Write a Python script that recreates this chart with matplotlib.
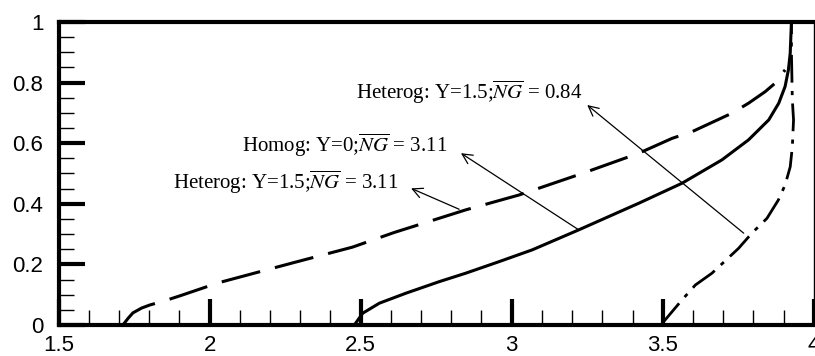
import numpy as np
import matplotlib
matplotlib.use("Agg")
import matplotlib.pyplot as plt

# curve data (x, y)
homog_x = [2.479, 2.507, 2.562, 2.650, 2.760, 2.848, 2.958, 3.068, 3.222,
           3.421, 3.564, 3.696, 3.784, 3.851, 3.884, 3.905, 3.916, 3.922,
           3.925, 3.926]
homog_y = [0.0, 0.039, 0.072, 0.105, 0.143, 0.171, 0.209, 0.248, 0.314,
           0.402, 0.468, 0.545, 0.611, 0.677, 0.732, 0.787, 0.842, 0.897,
           0.974, 1.0]

het311_x = [1.713, 1.730, 1.746, 1.775, 1.802, 1.845, 1.901, 2.028, 2.275,
            2.473, 2.61, 2.848, 3.024, 3.233, 3.421, 3.531, 3.597, 3.729,
            3.784, 3.839, 3.872, 3.905]
het311_y = [0.0, 0.022, 0.04, 0.056, 0.066, 0.078, 0.096, 0.139, 0.205,
            0.257, 0.305, 0.38, 0.429, 0.5, 0.567, 0.616, 0.638, 0.699,
            0.732, 0.770, 0.798, 0.842]

het084_x = [3.497, 3.503, 3.564, 3.608, 3.663, 3.751, 3.795, 3.845, 3.883,
            3.905, 3.922, 3.929, 3.933, 3.929, 3.926, 3.926]
het084_y = [0.0, 0.011, 0.083, 0.132, 0.171, 0.253, 0.303, 0.352, 0.413,
            0.462, 0.522, 0.588, 0.677, 0.743, 0.9, 1.0]

labels = [r'Heterog: Y=1.5;$\overline{NG}$ = 0.84',
          r'Homog: Y=0;$\overline{NG}$ = 3.11',
          r'Heterog: Y=1.5;$\overline{NG}$ = 3.11']
label_pos = [(2.486, 0.769), (2.106, 0.594), (1.878, 0.469)]
arrow_head = [(3.25, 0.726), (2.832, 0.567), (2.667, 0.451)]
arrow_tail = [(3.768, 0.303), (3.222, 0.314), (2.826, 0.382)]

plt.rcParams['mathtext.fontset'] = 'stix'

fig = plt.figure(figsize=(8.15, 3.56), dpi=100)
ax = fig.add_axes([0.0719, 0.0871, 0.9266, 0.8511])

ax.plot(homog_x, homog_y, color='black', lw=2.2, solid_capstyle='butt')
ax.plot(het311_x, het311_y, color='black', lw=2.2, linestyle=(0, (13, 5)))
ax.plot(het084_x, het084_y, color='black', lw=2.0, linestyle=(0, (10, 3, 1.5, 3)))

for txt, pos, head, tail in zip(labels, label_pos, arrow_head, arrow_tail):
    ax.text(pos[0], pos[1], txt, ha='left', va='center', fontsize=15,
            family='Liberation Serif')
    ax.annotate('', xy=head, xytext=tail,
                arrowprops=dict(arrowstyle='->', color='black', lw=0.9,
                                mutation_scale=18, shrinkA=0, shrinkB=0))

ax.set_xlim(1.5, 4.0)
ax.set_ylim(0, 1)
ax.set_xticks([1.5, 2, 2.5, 3, 3.5, 4])
ax.set_xticklabels(['1.5', '2', '2.5', '3', '3.5', '4'])
ax.set_yticks([0, 0.2, 0.4, 0.6, 0.8, 1])
ax.set_yticklabels(['0', '0.2', '0.4', '0.6', '0.8', '1'])
ax.set_xticks(np.arange(1.6, 4.0, 0.1), minor=True)
ax.set_yticks(np.arange(0.05, 1.0, 0.05), minor=True)

ax.tick_params(which='major', direction='in', length=19, width=3,
               labelsize=16, color='black')
ax.tick_params(axis='x', which='major', pad=7)
ax.tick_params(axis='y', which='major', pad=11)
ax.tick_params(which='minor', direction='in', length=11, width=1)
for lab in ax.get_xticklabels() + ax.get_yticklabels():
    lab.set_family('Liberation Sans')

for side in ['left', 'bottom', 'top']:
    ax.spines[side].set_linewidth(3)
ax.spines['right'].set_linewidth(1)

plt.savefig('out.png', dpi=100)
